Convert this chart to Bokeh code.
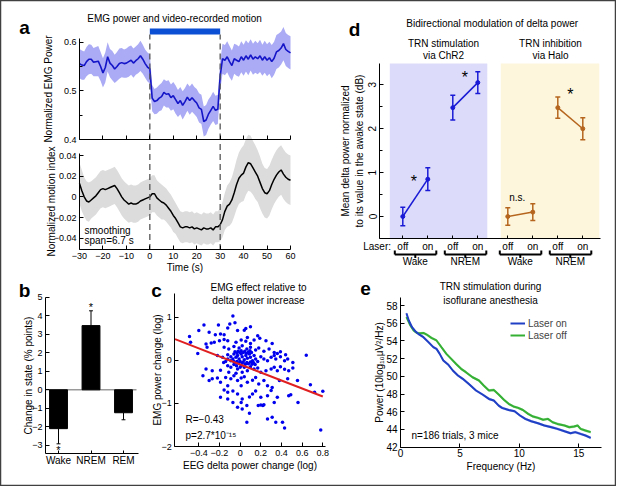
from bokeh.plotting import figure
from bokeh.models import (Label, FixedTicker, Arrow, Whisker, Legend, LegendItem, LinearAxis,
                          ColumnDataSource, Range1d, TeeHead, BoxAnnotation)
from bokeh.embed import file_html
from bokeh.resources import INLINE
from bokeh.core.properties import value

FONT = "Liberation Sans"

# ---------------- panel a data ----------------
time_s = list(range(-30, 61))
emg_mean = [0.556, 0.553, 0.552, 0.560, 0.565, 0.565, 0.559, 0.560, 0.561, 0.550,
            0.537, 0.548, 0.570, 0.557, 0.552, 0.545, 0.550, 0.556, 0.558, 0.556,
            0.557, 0.560, 0.563, 0.557, 0.562, 0.566, 0.572, 0.565, 0.556, 0.549,
            0.545, 0.485, 0.478, 0.480, 0.485, 0.488, 0.497, 0.493, 0.494, 0.486,
            0.490, 0.482, 0.474, 0.480, 0.470, 0.478, 0.487, 0.480, 0.486, 0.480,
            0.475, 0.465, 0.462, 0.437, 0.440, 0.452, 0.460, 0.468, 0.460, 0.462,
            0.530, 0.566, 0.563, 0.570, 0.560, 0.552, 0.566, 0.563, 0.560, 0.570,
            0.563, 0.572, 0.565, 0.574, 0.565, 0.570, 0.566, 0.572, 0.563, 0.570,
            0.563, 0.568, 0.560, 0.567, 0.580, 0.583, 0.588, 0.597, 0.585, 0.581, 0.578]
emg_err = [0.030, 0.030, 0.029, 0.030, 0.031, 0.030, 0.029, 0.030, 0.031, 0.030,
           0.030, 0.031, 0.030, 0.029, 0.030, 0.029, 0.030, 0.031, 0.030, 0.029,
           0.030, 0.031, 0.030, 0.030, 0.029, 0.030, 0.031, 0.030, 0.029, 0.030,
           0.030, 0.027, 0.026, 0.027, 0.027, 0.028, 0.027, 0.027, 0.028, 0.027,
           0.028, 0.029, 0.028, 0.028, 0.029, 0.028, 0.028, 0.029, 0.029, 0.028,
           0.029, 0.030, 0.030, 0.031, 0.031, 0.030, 0.029, 0.030, 0.030, 0.030,
           0.030, 0.031, 0.031, 0.032, 0.032, 0.031, 0.031, 0.032, 0.031, 0.032,
           0.032, 0.032, 0.033, 0.032, 0.032, 0.033, 0.032, 0.033, 0.032, 0.033,
           0.033, 0.033, 0.034, 0.034, 0.035, 0.035, 0.034, 0.034, 0.034, 0.034, 0.034]
motion_mean = [0.013, 0.006, 0.000, -0.004, -0.005, -0.003, -0.001, 0.001, 0.004, 0.007,
               0.008, 0.007, 0.008, 0.009, 0.010, 0.011, 0.008, 0.004, 0.000, -0.003,
               -0.005, -0.007, -0.006, -0.007, -0.007, -0.006, -0.004, -0.003, -0.002, -0.001,
               0.000, 0.003, 0.003, -0.001, -0.003, -0.005, -0.006, -0.008, -0.011, -0.014,
               -0.018, -0.021, -0.025, -0.029, -0.030, -0.029, -0.029, -0.030, -0.029, -0.031,
               -0.030, -0.031, -0.032, -0.030, -0.031, -0.031, -0.030, -0.032, -0.029, -0.029,
               -0.027, -0.022, -0.014, -0.009, -0.007, -0.003, 0.004, 0.012, 0.018, 0.021,
               0.023, 0.029, 0.033, 0.032, 0.028, 0.024, 0.020, 0.014, 0.008, 0.004,
               0.003, 0.006, 0.012, 0.017, 0.021, 0.024, 0.026, 0.022, 0.019, 0.017, 0.016]
motion_err = [0.020, 0.020, 0.019, 0.019, 0.019, 0.018, 0.018, 0.018, 0.018, 0.018,
              0.018, 0.018, 0.018, 0.018, 0.018, 0.018, 0.018, 0.018, 0.018, 0.018,
              0.018, 0.018, 0.018, 0.018, 0.018, 0.018, 0.018, 0.018, 0.018, 0.018,
              0.018, 0.018, 0.018, 0.017, 0.017, 0.017, 0.016, 0.016, 0.016, 0.016,
              0.016, 0.015, 0.015, 0.015, 0.015, 0.015, 0.015, 0.015, 0.015, 0.015,
              0.015, 0.015, 0.015, 0.015, 0.015, 0.015, 0.015, 0.015, 0.015, 0.015,
              0.016, 0.017, 0.018, 0.020, 0.021, 0.022, 0.023, 0.024, 0.025, 0.026,
              0.027, 0.027, 0.027, 0.027, 0.026, 0.026, 0.025, 0.025, 0.024, 0.024,
              0.024, 0.024, 0.024, 0.024, 0.024, 0.024, 0.024, 0.024, 0.024, 0.024, 0.024]
stim_window = [0, 30]
stim_bar_y = [0.616, 0.628]

# ---------------- panel b data ----------------
b_states = ["Wake", "NREM", "REM"]
b_pos = [1, 2, 3]
b_change = [-2.1, 3.47, -1.24]
b_err = [0.82, 0.80, 0.38]
b_star_pos = [1, 2]
b_star_y = [-3.27, 4.47]

# ---------------- panel c data ----------------
c_eeg = [-0.07, -0.35, -0.21, -0.10, -0.05,
         0.055, -0.40, -0.30, -0.12, -0.025, 0.04, 0.10,
         -0.49, -0.24, -0.19, -0.155, 0.07, 0.17, 0.19, -0.48, -0.33, -0.28, -0.25, -0.20, -0.155, -0.12, -0.04, 0.01, 0.055, 0.10, 0.135, 0.25, 0.31,
         -0.32, -0.155, -0.11, -0.06, -0.01, 0.02, 0.065, 0.10, 0.15, 0.18, 0.23, 0.28, 0.33, 0.36, 0.39, 0.44, -0.41,
         -0.22, -0.17, -0.12, -0.09, -0.07, -0.06, -0.04, -0.025, -0.01, 0.01, 0.02, 0.04, 0.055, 0.07, 0.09, 0.10, 0.12, 0.135, 0.15, 0.17, 0.20, 0.23, 0.265, 0.30, 0.33, 0.345, 0.39, 0.43, 0.46, 0.51, 0.64, -0.09, -0.12, -0.14, -0.16,
         -0.05, -0.03, -0.02, 0.0, 0.01, 0.03, 0.045, 0.06, 0.08, 0.095, 0.11, -0.06, -0.05, -0.03, -0.015, 0.0, 0.02, 0.03, 0.05, 0.065, 0.08, 0.10, 0.115, 0.13, 0.145, -0.035, 0.0,
         -0.33, -0.27, -0.19, -0.12, -0.09, -0.06, -0.025, 0.01, 0.04, 0.07, 0.10, 0.135, 0.17, 0.20, 0.25, 0.30, 0.33, 0.36, 0.39, 0.43, 0.47, 0.51, -0.11, -0.04, 0.02,
         -0.36, -0.30, -0.27, -0.22, -0.19, -0.14, -0.09, -0.06, -0.025, 0.01, 0.04, 0.07, 0.12, 0.15, 0.18, 0.23, 0.265, 0.31, 0.38, 0.46, 0.555, 0.68, 0.80, 0.72, 0.01, -0.12,
         -0.155, -0.12, -0.07, -0.025, 0.02, 0.09, 0.12, 0.15, 0.20, 0.265, 0.33, 0.36, 0.47, -0.12, -0.07, 0.01, -0.19,
         -0.025, 0.02, 0.065, 0.175, 0.20, 0.22, 0.23, 0.09, 0.065, 0.265, 0.31, 0.345, 0.41, 0.43, 0.78,
         0.49, 0.56, 0.30]
c_emg = [1.03, 0.82, 0.82, 0.84, 0.87,
         0.74, 0.69, 0.65, 0.75, 0.69, 0.70, 0.78,
         0.555, 0.59, 0.61, 0.59, 0.53, 0.57, 0.51, 0.42, 0.38, 0.40, 0.42, 0.455, 0.48, 0.455, 0.42, 0.47, 0.44, 0.39, 0.47, 0.455, 0.39,
         0.30, 0.30, 0.26, 0.32, 0.285, 0.34, 0.26, 0.30, 0.24, 0.285, 0.21, 0.26, 0.18, 0.16, 0.20, 0.13, 0.16,
         0.11, 0.07, 0.13, 0.08, 0.03, 0.145, 0.07, 0.11, 0.03, 0.145, 0.08, 0.01, 0.11, 0.045, 0.145, 0.07, -0.01, 0.11, 0.03, -0.03, 0.08, 0.03, -0.01, 0.07, 0.11, 0.03, 0.08, -0.01, 0.03, -0.05, 0.12, -0.01, 0.03, -0.025, -0.05,
         0.20, 0.17, 0.21, 0.18, 0.22, 0.18, 0.21, 0.16, 0.19, 0.22, 0.18, -0.025, -0.055, -0.025, -0.07, -0.03, -0.06, -0.04, -0.09, -0.05, -0.08, -0.04, -0.09, -0.055, -0.10, -0.125, -0.16,
         -0.20, -0.24, -0.23, -0.125, -0.16, -0.10, -0.20, -0.125, -0.16, -0.24, -0.15, -0.20, -0.18, -0.28, -0.24, -0.20, -0.16, -0.24, -0.15, -0.21, -0.24, -0.18, -0.28, -0.30, -0.28,
         -0.36, -0.47, -0.43, -0.41, -0.51, -0.40, -0.43, -0.36, -0.47, -0.41, -0.38, -0.51, -0.46, -0.40, -0.55, -0.47, -0.59, -0.63, -0.47, -0.43, -0.47, -0.57, -0.72, -0.74, -0.59, -0.59,
         -0.69, -0.74, -0.71, -0.78, -0.90, -0.85, -0.78, -0.71, -0.86, -0.82, -0.98, -0.86, -0.82, -0.90, -0.98, -0.98, -0.86,
         -1.09, -1.13, -1.05, -1.05, -1.04, -1.05, -1.03, -1.23, -1.44, -1.36, -1.32, -1.44, -1.44, -1.57, -1.62,
         -0.80, -0.98, -0.70]
c_fit_x = [-0.63, 0.80]
c_fit_y = [0.49, -0.84]

# ---------------- panel d data ----------------
d_pos_chr2 = [5, 10, 15, 20]
d_pos_halo = [26, 31, 36, 41]
d_laser = ["off", "on", "off", "on"]
d_states = ["Wake", "NREM"]
d_chr2 = [0.0, 0.85, 2.48, 3.05]
d_chr2_err = [0.21, 0.26, 0.28, 0.25]
d_halo = [0.0, 0.10, 2.48, 2.0]
d_halo_err = [0.20, 0.19, 0.24, 0.25]
d_star_x = [17.4, 7.2, 38.5]
d_star_y = [3.16, 0.79, 2.78]
d_ns_x, d_ns_y = 27.9, 0.44

# ---------------- panel e data ----------------
e_on_f = [0.5, 0.7, 0.97, 1.24, 1.5, 1.93, 2.35, 2.76, 3.03, 3.3, 3.6, 4.0, 4.4, 4.83, 5.24, 5.8, 6.35, 6.9,
          7.44, 7.85, 8.26, 8.54, 9.1, 9.6, 10.05, 10.5, 11.0, 11.57, 12.1, 12.7, 13.2, 13.8, 14.3, 14.7,
          15.15, 15.56, 16.0]
e_on_p = [57.13, 56.3, 55.55, 55.1, 54.8, 54.42, 53.86, 53.3, 53.1, 52.54, 51.8, 51.34, 50.66, 50.1, 49.72,
          49.08, 48.4, 47.95, 47.45, 47.27, 46.7, 46.44, 46.2, 46.06, 45.58, 45.2, 44.93, 44.7, 44.45, 44.26,
          44.07, 43.8, 43.58, 43.7, 43.5, 43.32, 43.05]
e_off_f = [0.5, 0.83, 1.1, 1.38, 1.65, 1.93, 2.2, 2.6, 3.03, 3.44, 3.86, 4.27, 4.68, 5.1, 5.5, 6.06, 6.6, 7.0,
           7.44, 7.85, 8.26, 8.7, 9.1, 9.5, 9.9, 10.3, 10.74, 11.16, 11.57, 12.0, 12.4, 12.8, 13.2, 13.8,
           14.2, 14.6, 14.9, 15.15, 15.56, 16.0]
e_off_p = [56.7, 55.74, 55.18, 54.9, 54.87, 54.9, 54.72, 54.35, 54.05, 53.3, 52.54, 51.97, 51.4, 50.85, 50.47,
           49.9, 49.53, 48.96, 48.4, 48.47, 47.95, 47.35, 46.9, 46.6, 46.44, 46.2, 45.76, 45.46, 45.31, 45.1,
           45.2, 44.82, 44.63, 44.45, 44.26, 44.33, 44.45, 44.07, 43.88, 43.7]
e_sem = 0.15

# ================= one canvas, one scale pair per panel =================
W, H = 616, 486
p = figure(width=W, height=H, x_range=Range1d(0, W), y_range=Range1d(H, 0),
           x_axis_type=None, y_axis_type=None, min_border=0,
           output_backend="svg", toolbar_location=None, title_location=None)
p.outline_line_color = "#404040"
p.outline_line_width = 1.5
p.background_fill_color = "white"
p.border_fill_color = "white"


def xrange_(v0, X0, v1, X1):
    s = (X1 - X0) / (v1 - v0)
    return Range1d(v0 - X0 / s, v0 + (W - X0) / s)


def yrange_(v0, Y0, v1, Y1):
    s = (Y0 - Y1) / (v1 - v0)
    return Range1d(v0 - (H - Y0) / s, v0 + Y0 / s)


# panel placement on the page (value -> pixel anchors)
p.extra_x_ranges = {
    "a": xrange_(-30, 79, 60, 290),
    "b": xrange_(1, 58, 3, 123),
    "c": xrange_(-0.4, 198.3, 0.8, 322.3),
    "d": xrange_(5, 402.3, 41, 582.3),
    "e": xrange_(0, 400, 15, 578.3),
}
p.extra_y_ranges = {
    "a1": yrange_(0.4, 139, 0.6, 41.7),
    "a2": yrange_(-0.04, 237.7, 0.04, 155),
    "b": yrange_(-3, 444.8, 0, 389.3),
    "c": yrange_(-2, 446, 1, 316.7),
    "d": yrange_(0, 216, 3, 84.3),
    "e": yrange_(42, 446.7, 58, 305),
}


def style_axis(ax, tick="9px"):
    ax.axis_line_color = "black"
    ax.axis_line_width = 1
    ax.major_tick_in = 4
    ax.major_tick_out = 0
    ax.minor_tick_in = 3
    ax.minor_tick_out = 0
    ax.major_tick_line_color = "black"
    ax.minor_tick_line_color = "black"
    ax.major_label_text_font = FONT
    ax.major_label_text_font_size = tick
    ax.major_label_text_color = "black"
    ax.major_label_standoff = 3
    ax.axis_label_text_font = FONT
    ax.axis_label_text_font_size = "10px"
    ax.axis_label_text_font_style = "normal"
    ax.axis_label_text_color = "black"


def axes(xn, yn, xb, yb, xticks, yticks, tick="9px", yminor=None):
    left = LinearAxis(x_range_name=xn, y_range_name=yn, fixed_location=xb[0], bounds=yb,
                      ticker=FixedTicker(ticks=yticks, minor_ticks=yminor or []))
    below = LinearAxis(x_range_name=xn, y_range_name=yn, fixed_location=yb[0], bounds=xb,
                       ticker=FixedTicker(ticks=xticks))
    style_axis(left, tick)
    style_axis(below, tick)
    p.add_layout(left, "left")
    p.add_layout(below, "below")
    return left, below


def txt(X, Y, s, size="10px", bold=False, align="center"):
    p.add_layout(Label(x=X, y=Y, text=s, text_font=FONT, text_font_size=size,
                       text_font_style="bold" if bold else "normal",
                       text_align=align, text_baseline="middle", text_color="black"))


# ================= a (top): EMG =================
A1 = dict(x_range_name="a", y_range_name="a1")
lo = [m - e for m, e in zip(emg_mean, emg_err)]
hi = [m + e for m, e in zip(emg_mean, emg_err)]
p.varea(x=time_s, y1=lo, y2=hi, fill_color="#aaaaf5", fill_alpha=1, **A1)
p.line(time_s, emg_mean, line_color="#1515c8", line_width=1.6, **A1)
p.quad(left=[stim_window[0]], right=[stim_window[1]], bottom=[stim_bar_y[0]], top=[stim_bar_y[1]],
       fill_color="#0b4fd4", line_color=None, **A1)
p.segment(x0=stim_window, y0=[0.4, 0.4], x1=stim_window, y1=[stim_bar_y[0]] * 2,
          line_color="#555555", line_width=1.3, line_dash="6 4", **A1)
l1, b1 = axes("a", "a1", (-30, 60), (0.4, 0.607), list(range(-30, 61, 10)), [0.4, 0.5, 0.6],
              yminor=[0.45, 0.55])
b1.major_label_overrides = {t: "" for t in range(-30, 61, 10)}
l1.axis_label = "Normalized EMG Power"
l1.axis_label_standoff = 7
txt(24, 27, "a", size="19px", bold=True)
txt(174, 18, "EMG power and video-recorded motion")

# ================= a (bottom): motion =================
A2 = dict(x_range_name="a", y_range_name="a2")
lo2 = [m - e for m, e in zip(motion_mean, motion_err)]
hi2 = [m + e for m, e in zip(motion_mean, motion_err)]
p.varea(x=time_s, y1=lo2, y2=hi2, fill_color="#dcdcdc", fill_alpha=1, **A2)
p.line(time_s, motion_mean, line_color="black", line_width=1.5, **A2)
p.segment(x0=stim_window, y0=[-0.0513] * 2, x1=stim_window, y1=[0.0545] * 2,
          line_color="#555555", line_width=1.3, line_dash="6 4", **A2)
l2, b2 = axes("a", "a2", (-30, 60), (-0.0513, 0.042), list(range(-30, 61, 10)),
              [-0.04, -0.02, 0, 0.02, 0.04])
l2.major_label_overrides = {0: "0"}
l2.axis_label = "Normalized motion index"
l2.axis_label_standoff = -6
b2.axis_label = "Time (s)"
b2.axis_label_standoff = 0
txt(84, 230, "smoothing", align="left")
txt(84, 240, "span=6.7 s", align="left")

# ================= b =================
B = dict(x_range_name="b", y_range_name="b")
p.segment(x0=[0.6], y0=[0], x1=[3.4], y1=[0], line_color="#9a9a9a", line_width=1.5, **B)
p.vbar(x=b_pos, top=b_change, bottom=0, width=0.55, fill_color="black", line_color="black", **B)
b_end = [v + (e if v > 0 else -e) for v, e in zip(b_change, b_err)]
p.segment(x0=b_pos, y0=b_change, x1=b_pos, y1=b_end, line_color="black", line_width=1, **B)
p.segment(x0=[x - 0.06 for x in b_pos], y0=b_end, x1=[x + 0.06 for x in b_pos], y1=b_end,
          line_color="black", line_width=1, **B)
p.text(x=b_star_pos, y=b_star_y, text=["*"] * len(b_star_pos), text_font=value(FONT),
       text_font_size="11px", text_align="center", text_baseline="middle", **B)
l3, b3 = axes("b", "b", (0.6, 3.46), (-3.45, 5.0), b_pos, list(range(-3, 6)))
b3.major_label_overrides = {i: s for i, s in zip(b_pos, b_states)}
b3.major_label_text_font_size = "10px"
b3.major_label_standoff = 1
b3.major_tick_in = 3
l3.axis_label = "Change in state (% points)"
l3.axis_label_standoff = -5
txt(24, 290, "b", size="19px", bold=True)

# ================= c =================
C = dict(x_range_name="c", y_range_name="c")
p.scatter(c_eeg, c_emg, size=3.5, fill_color="#0000ee", line_color=None, **C)
p.line(c_fit_x, c_fit_y, line_color="#e02020", line_width=2, **C)
l4, b4 = axes("c", "c", (-0.632, 0.83), (-2, 1.54), [-0.4, -0.2, 0, 0.2, 0.4, 0.6, 0.8], [-2, -1, 0, 1])
b4.major_label_overrides = {0: "0"}
b4.axis_label = "EEG delta power change (log)"
b4.axis_label_standoff = 1
l4.axis_label = "EMG power change (log)"
l4.axis_label_standoff = -5
txt(156, 290, "c", size="19px", bold=True)
txt(258, 287, "EMG effect relative to")
txt(258, 300, "delta power increase")
txt(185, 419, "R=\u22120.43", align="left")
txt(185, 435, "p=2.7*10\u207b\u00b9\u2075", align="left")

# ================= d =================
D = dict(x_range_name="d", y_range_name="d")
p.add_layout(BoxAnnotation(left=d_pos_chr2[0] - 2.6, right=d_pos_chr2[-1] + 1.9, bottom=-0.508, top=3.485,
                           fill_color="#dcdcfa", fill_alpha=1, line_color=None, level="underlay", **D))
p.add_layout(BoxAnnotation(left=d_pos_halo[0] - 1.4, right=d_pos_halo[-1] + 3.3, bottom=-0.508, top=3.485,
                           fill_color="#fdf6dc", fill_alpha=1, line_color=None, level="underlay", **D))
for pos, vals, errs, col in [(d_pos_chr2, d_chr2, d_chr2_err, "#1a1ad6"),
                             (d_pos_halo, d_halo, d_halo_err, "#b5651d")]:
    for k in (0, 2):
        p.line(pos[k:k + 2], vals[k:k + 2], line_color=col, line_width=1.5, **D)
    p.scatter(pos, vals, size=4, fill_color=col, line_color=col, **D)
    src = ColumnDataSource(dict(base=pos, lower=[v - e for v, e in zip(vals, errs)],
                                upper=[v + e for v, e in zip(vals, errs)]))
    p.add_layout(Whisker(source=src, base="base", lower="lower", upper="upper", line_color=col,
                         line_width=1.5,
                         upper_head=TeeHead(size=5, line_color=col, line_width=1.5),
                         lower_head=TeeHead(size=5, line_color=col, line_width=1.5), **D))
p.text(x=d_star_x, y=d_star_y, text=["*"] * 3, text_font=value(FONT), text_font_size="16px",
       text_align="center", text_baseline="middle", **D)
p.text(x=[d_ns_x], y=[d_ns_y], text=["n.s."], text_font=value(FONT), text_font_size="10px",
       text_align="center", text_baseline="middle", **D)
all_pos = d_pos_chr2 + d_pos_halo
l5, b5 = axes("d", "d", (0.34, 44.54), (-0.508, 3.485), all_pos, [0, 1, 2, 3], tick="10px",
              yminor=[-0.5, 0.5, 1.5, 2.5])
b5.major_label_overrides = {x: s for x, s in zip(all_pos, d_laser + d_laser)}
b5.major_label_standoff = 2
b5.major_tick_in = 3
l5.major_label_orientation = "vertical"
l5.axis_label = "Mean delta power normalized\nto its value in the awake state (dB)"
l5.axis_label_standoff = 1
# brackets grouping laser off/on under each state
pairs = [(all_pos[i], all_pos[i + 1]) for i in range(0, 8, 2)]
y_base, y_up, y_dn = -0.866, -0.774, -0.945
bx0, by0, bx1, by1 = [], [], [], []
for a, b in pairs:
    L, R, M = a - 1.6, b + 1.7, (a + b) / 2
    for seg in [(L, y_base, R, y_base), (L, y_base, L, y_up), (R, y_base, R, y_up), (M, y_base, M, y_dn)]:
        bx0.append(seg[0]); by0.append(seg[1]); bx1.append(seg[2]); by1.append(seg[3])
p.add_layout(Arrow(end=None, source=ColumnDataSource(dict(x0=bx0, y0=by0, x1=bx1, y1=by1)),
                   x_start="x0", y_start="y0", x_end="x1", y_end="y1",
                   line_color="black", line_width=2, **D))
for (a, b), st in zip(pairs, d_states + d_states):
    p.add_layout(Label(x=(a + b) / 2, y=-1.025, text=st, text_font=FONT, text_font_size="10px",
                       text_align="center", text_baseline="middle", text_color="black", **D))
txt(390.5, 245.7, "Laser:", align="right")
txt(354, 28.5, "d", size="19px", bold=True)
txt(491.7, 22.7, "Bidirectional modulation of delta power")
txt(443, 43, "TRN stimulation")
txt(443, 55, "via ChR2")
txt(550, 43, "TRN inhibition")
txt(550, 55, "via Halo")

# ================= e =================
E = dict(x_range_name="e", y_range_name="e")
p.varea(x=e_off_f, y1=[v - e_sem for v in e_off_p], y2=[v + e_sem for v in e_off_p],
        fill_color="#9fdc9f", fill_alpha=0.8, **E)
p.varea(x=e_on_f, y1=[v - e_sem for v in e_on_p], y2=[v + e_sem for v in e_on_p],
        fill_color="#9aa8ec", fill_alpha=0.8, **E)
r_off = p.line(e_off_f, e_off_p, line_color="#35b035", line_width=2, **E)
r_on = p.line(e_on_f, e_on_p, line_color="#1f3fc4", line_width=2, **E)
leg = Legend(items=[LegendItem(label="Laser on", renderers=[r_on]),
                    LegendItem(label="Laser off", renderers=[r_off])],
             location=(510, 145), border_line_color=None, background_fill_alpha=0,
             padding=0, margin=0, spacing=0, glyph_width=15, glyph_height=12, label_height=12,
             label_standoff=3, label_text_font=FONT, label_text_font_size="10px")
p.add_layout(leg)
l6, b6 = axes("e", "e", (0, 16.88), (42, 58.94), [0, 5, 10, 15], list(range(42, 59, 2)), tick="10px")
b6.major_label_standoff = 2
b6.axis_label = "Frequency (Hz)"
b6.axis_label_standoff = 0
l6.axis_label = "Power (10log\u2081\u2080\u03bcV\u00b2/Hz)"
l6.axis_label_standoff = -2
txt(365, 287.5, "e", size="19px", bold=True)
txt(490, 286, "TRN stimulation during")
txt(490, 300, "isoflurane anesthesia")
txt(411, 435, "n=186 trials, 3 mice", align="left")

open("out.html", "w").write(file_html(p, INLINE))
